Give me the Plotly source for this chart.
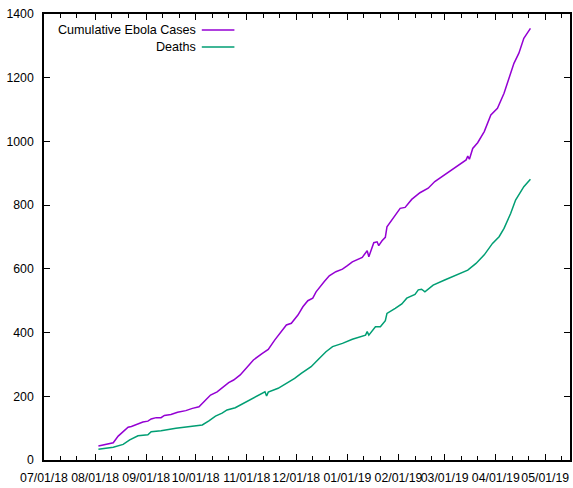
import plotly.graph_objects as go

case_dates = ["2018-08-03","2018-08-10","2018-08-12","2018-08-15","2018-08-18","2018-08-21","2018-08-23",
              "2018-08-26","2018-08-30","2018-09-02","2018-09-04","2018-09-07","2018-09-10","2018-09-12",
              "2018-09-16","2018-09-20","2018-09-25","2018-09-29","2018-10-03","2018-10-06","2018-10-10",
              "2018-10-14","2018-10-18","2018-10-21","2018-10-24","2018-10-28","2018-11-01","2018-11-05",
              "2018-11-10","2018-11-14","2018-11-18","2018-11-21","2018-11-25","2018-11-28","2018-12-02",
              "2018-12-05","2018-12-08","2018-12-11","2018-12-13","2018-12-18","2018-12-21","2018-12-25",
              "2018-12-29","2019-01-01","2019-01-04","2019-01-10","2019-01-13","2019-01-14","2019-01-17",
              "2019-01-19","2019-01-20","2019-01-22","2019-01-24","2019-01-25","2019-01-29","2019-02-02",
              "2019-02-05","2019-02-09","2019-02-14","2019-02-19","2019-02-23","2019-03-01","2019-03-07",
              "2019-03-13","2019-03-14","2019-03-15","2019-03-16","2019-03-18","2019-03-21","2019-03-25",
              "2019-03-29","2019-04-02","2019-04-06","2019-04-09","2019-04-12","2019-04-15","2019-04-18",
              "2019-04-22"]
cases = [44,50,54,75,89,103,105,
         112,119,122,129,133,133,140,
         143,150,155,162,167,183,204,
         214,232,243,251,267,290,314,
         333,347,377,398,424,429,455,
         481,500,508,528,560,578,591,
         599,610,622,636,657,638,682,
         685,673,688,699,732,762,790,
         793,818,839,853,874,895,917,
         939,942,954,944,978,996,1031,
         1083,1104,1151,1198,1245,1277,1324,
         1355]

death_dates = ["2018-08-03","2018-08-12","2018-08-18","2018-08-22","2018-08-27","2018-09-02","2018-09-04",
               "2018-09-10","2018-09-19","2018-09-27","2018-10-03","2018-10-05","2018-10-09","2018-10-13",
               "2018-10-17","2018-10-20","2018-10-25","2018-10-29","2018-11-02","2018-11-08","2018-11-12",
               "2018-11-13","2018-11-14","2018-11-20","2018-11-25","2018-11-30","2018-12-04","2018-12-10",
               "2018-12-14","2018-12-19","2018-12-23","2018-12-29","2019-01-04","2019-01-09","2019-01-12",
               "2019-01-13","2019-01-14","2019-01-18","2019-01-21","2019-01-24","2019-01-25","2019-01-30",
               "2019-02-03","2019-02-06","2019-02-11","2019-02-13","2019-02-15","2019-02-17","2019-02-22",
               "2019-03-01","2019-03-15","2019-03-20","2019-03-25","2019-03-30","2019-04-03","2019-04-06",
               "2019-04-10","2019-04-13","2019-04-18","2019-04-22"]
deaths = [34,40,49,63,76,79,89,
          92,100,105,107,110,123,138,
          147,157,164,175,187,204,214,
          201,213,225,241,256,272,293,
          314,340,356,366,379,387,392,
          403,392,418,418,437,460,476,
          490,508,520,534,536,528,549,
          565,596,617,644,680,701,727,
          774,816,858,881]

major_ticks = ["2018-07-01","2018-08-01","2018-09-01","2018-10-01","2018-11-01","2018-12-01",
               "2019-01-01","2019-02-01","2019-03-01","2019-04-01","2019-05-01"]
major_labels = ["07/01/18","08/01/18","09/01/18","10/01/18","11/01/18","12/01/18",
                "01/01/19","02/01/19","03/01/19","04/01/19","05/01/19"]
minor_ticks = []
for m in major_ticks:
    minor_ticks += [m[:8] + "11", m[:8] + "21"]

y_ticks = [0, 200, 400, 600, 800, 1000, 1200, 1400]

PURPLE = "#9400d3"
GREEN = "#009e73"
FONT = "Liberation Sans, Arial, sans-serif"

fig = go.Figure()
fig.add_trace(go.Scatter(x=case_dates, y=cases, mode="lines", name="Cumulative Ebola Cases",
                         line=dict(color=PURPLE, width=1.5)))
fig.add_trace(go.Scatter(x=death_dates, y=deaths, mode="lines", name="Deaths",
                         line=dict(color=GREEN, width=1.5)))

axis_common = dict(showline=True, linecolor="black", linewidth=1.5, mirror="allticks",
                   ticks="inside", ticklen=6, tickwidth=1, tickcolor="black",
                   showgrid=False, zeroline=False,
                   tickfont=dict(family=FONT, size=12.3, color="black"))

fig.update_xaxes(type="date", range=["2018-07-01", "2019-05-16"],
                 tickmode="array", tickvals=major_ticks, ticktext=major_labels, tickangle=0,
                 ticklabelstandoff=5,
                 minor=dict(tickmode="array", tickvals=minor_ticks, ticks="inside", ticklen=4,
                            tickcolor="black", tickwidth=1, showgrid=False),
                 **axis_common)
fig.update_yaxes(range=[0, 1400], tickmode="array", tickvals=y_ticks,
                 ticklabelstandoff=6, **axis_common)

# gnuplot-style key: right-aligned text followed by a line sample
for i, (label, color) in enumerate([("Cumulative Ebola Cases", PURPLE), ("Deaths", GREEN)]):
    yk = 0.964 - i * 0.038
    fig.add_annotation(xref="paper", yref="paper", x=0.289, y=yk, text=label, showarrow=False,
                       xanchor="right", yanchor="middle", xshift=2,
                       font=dict(family=FONT, size=12.6, color="black"))
    fig.add_shape(type="line", xref="paper", yref="paper", x0=0.3, x1=0.362, y0=yk, y1=yk,
                  line=dict(color=color, width=1.5))

fig.update_layout(width=573, height=488, margin=dict(l=44, r=1, t=14, b=28),
                  paper_bgcolor="white", plot_bgcolor="white", showlegend=False,
                  font=dict(family=FONT, size=12.3, color="black"))
fig.write_html("out.html", config={"displayModeBar": False},
               post_script="document.body.style.margin='0';document.body.style.overflow='hidden';")
